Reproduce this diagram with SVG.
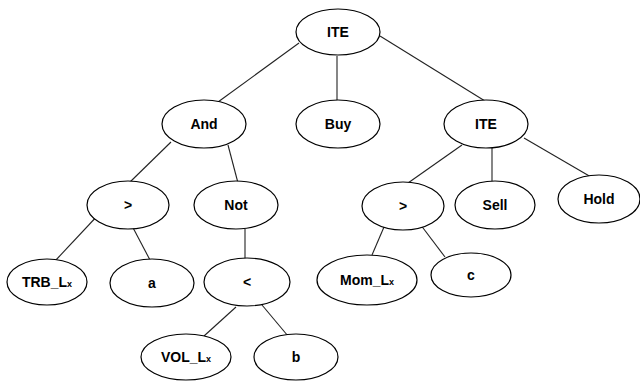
<svg xmlns="http://www.w3.org/2000/svg" width="640" height="383" viewBox="0 0 640 383">
<style>
ellipse{fill:#fff;stroke:#000;stroke-width:1.2}
.e line{stroke:#222;stroke-width:1.1}
text{font-family:"Liberation Sans",Arial,sans-serif;font-weight:bold;font-size:14px;text-anchor:middle;fill:#000}
.s{font-size:9px}
</style>
<rect width="640" height="383" fill="#fff"/>
<g class="e" id="connectors">
<line x1="299" y1="43" x2="218" y2="102"/>
<line x1="337" y1="56" x2="337" y2="101"/>
<line x1="380" y1="36" x2="485" y2="101"/>
<line x1="171" y1="142" x2="129" y2="183"/>
<line x1="228" y1="145" x2="238" y2="183"/>
<line x1="462" y1="145" x2="408" y2="183"/>
<line x1="492" y1="148" x2="492" y2="183"/>
<line x1="524" y1="138" x2="591" y2="177"/>
<line x1="100" y1="213" x2="55" y2="261"/>
<line x1="130" y1="222" x2="150" y2="260"/>
<line x1="245" y1="229" x2="245" y2="259"/>
<line x1="387" y1="220" x2="372" y2="255"/>
<line x1="417" y1="220" x2="445" y2="257"/>
<line x1="236" y1="307" x2="204" y2="336"/>
<line x1="262" y1="305" x2="288" y2="336"/>
</g>
<g id="n_ite"><ellipse cx="338" cy="32" rx="42" ry="23"/><text x="338" y="37">ITE</text></g>
<g id="n_and"><ellipse cx="204" cy="124" rx="42" ry="24"/><text x="204" y="129">And</text></g>
<g id="n_buy"><ellipse cx="338" cy="124" rx="42" ry="24"/><text x="338" y="129">Buy</text></g>
<g id="n_ite2"><ellipse cx="486" cy="124" rx="42" ry="24"/><text x="486" y="129">ITE</text></g>
<g id="n_gt1"><ellipse cx="128" cy="205" rx="41" ry="24"/><text x="128" y="210">&gt;</text></g>
<g id="n_not"><ellipse cx="236" cy="205" rx="42" ry="24"/><text x="236" y="210">Not</text></g>
<g id="n_gt2"><ellipse cx="403" cy="206" rx="41" ry="24"/><text x="403" y="211">&gt;</text></g>
<g id="n_sell"><ellipse cx="495" cy="205" rx="40" ry="24"/><text x="495" y="210">Sell</text></g>
<g id="n_hold"><ellipse cx="599" cy="199" rx="41" ry="24"/><text x="599" y="204">Hold</text></g>
<g id="n_trb"><ellipse cx="47" cy="282" rx="40" ry="23"/><text x="47" y="287">TRB_L<tspan class="s">x</tspan></text></g>
<g id="n_a"><ellipse cx="152" cy="283" rx="42" ry="24"/><text x="152" y="288">a</text></g>
<g id="n_lt"><ellipse cx="247" cy="282" rx="43" ry="24"/><text x="247" y="287">&lt;</text></g>
<g id="n_mom"><ellipse cx="367" cy="280" rx="50" ry="25"/><text x="367" y="285">Mom_L<tspan class="s">x</tspan></text></g>
<g id="n_c"><ellipse cx="471" cy="275" rx="40" ry="22"/><text x="471" y="280">c</text></g>
<g id="n_vol"><ellipse cx="186" cy="357" rx="45" ry="23"/><text x="186" y="362">VOL_L<tspan class="s">x</tspan></text></g>
<g id="n_b"><ellipse cx="296" cy="357" rx="42" ry="23"/><text x="296" y="362">b</text></g>
</svg>
